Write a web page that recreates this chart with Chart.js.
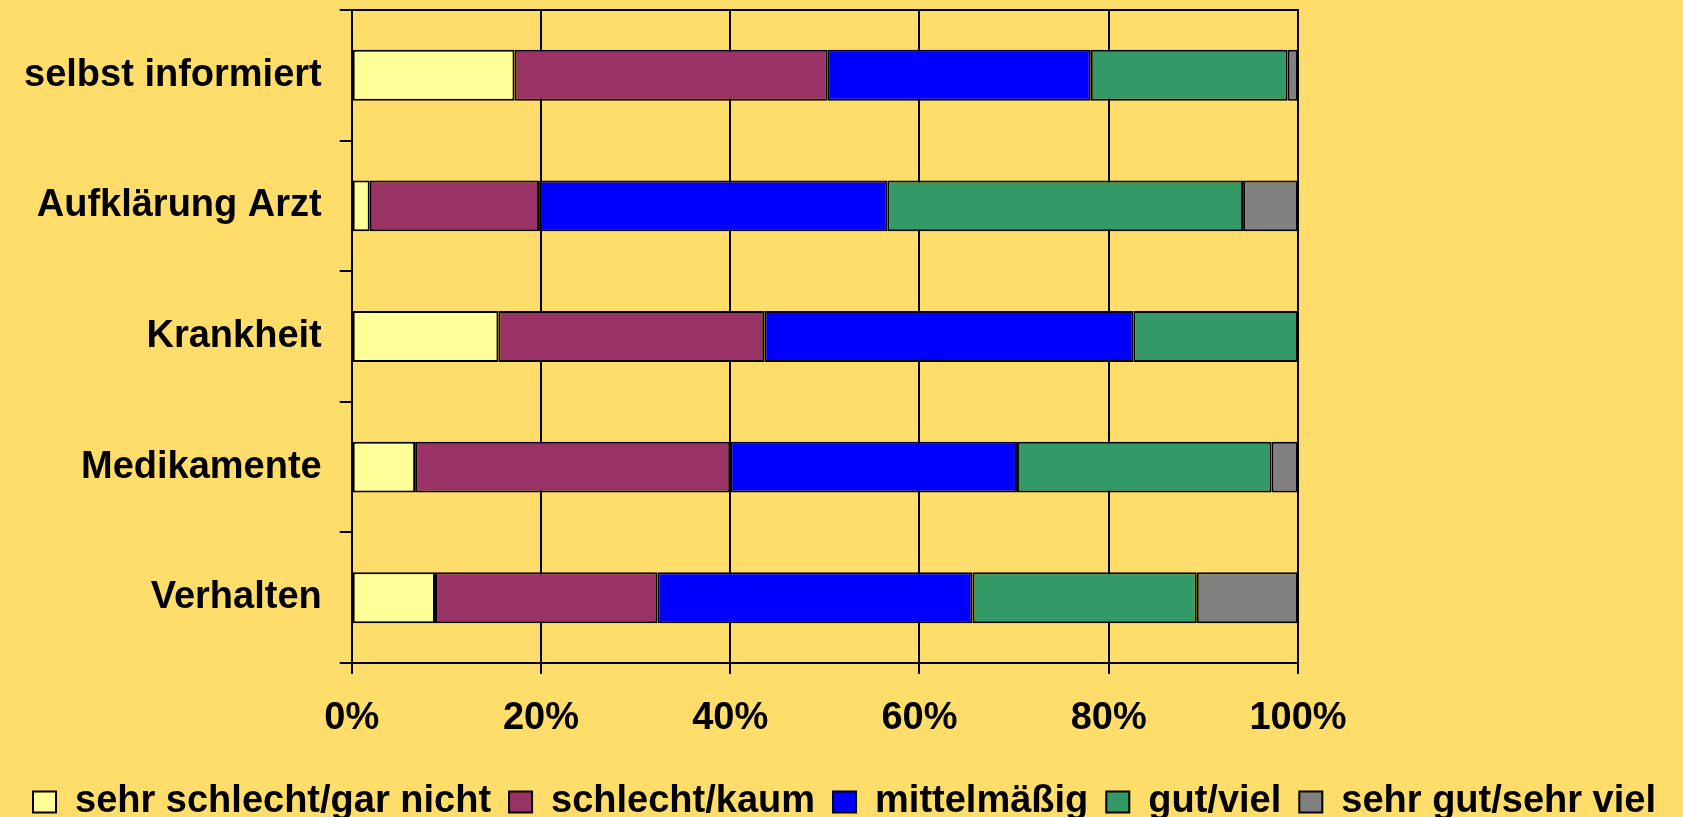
<!DOCTYPE html>
<html>
<head>
<meta charset="utf-8">
<script src="https://cdn.jsdelivr.net/npm/chart.js@4.4.0/dist/chart.umd.min.js"></script>
<style>
  html, body { margin: 0; padding: 0; background: #FFDD6B; }
  #wrap { width: 1683px; height: 817px; }
</style>
</head>
<body>
<div id="wrap"><canvas id="myChart"></canvas></div>
<script>
// categories (top to bottom)
const categories = ["selbst informiert", "Aufklärung Arzt", "Krankheit", "Medikamente", "Verhalten"];

// percent per answer
const sehrSchlecht = [17.2, 1.9, 15.5, 6.7, 8.8];
const schlecht = [33.1, 17.9, 28.1, 33.3, 23.5];
const mittel = [27.8, 36.8, 39.0, 30.3, 33.3];
const gut = [20.8, 37.6, 17.4, 26.9, 23.7];
const sehrGut = [1.1, 5.8, 0, 2.8, 10.7];

const seriesNames = ["sehr schlecht/gar nicht", "schlecht/kaum", "mittelmäßig", "gut/viel", "sehr gut/sehr viel"];
const seriesColors = ["#FFFF99", "#993366", "#0000FF", "#339966", "#808080"];
const xTicks = [0, 20, 40, 60, 80, 100];

const fontFamily = "'Liberation Sans', Arial, sans-serif";

const makeSet = (i, values) => ({
  label: seriesNames[i],
  data: values,
  backgroundColor: seriesColors[i],
  borderColor: "#000000",
  borderWidth: 2,
  borderSkipped: false,
  barPercentage: 0.39,
  categoryPercentage: 1.0
});

var ctx = document.getElementById("myChart").getContext("2d");
var chart = new Chart(ctx, {
  type: "bar",
  data: {
    labels: categories,
    datasets: [
      makeSet(0, sehrSchlecht),
      makeSet(1, schlecht),
      makeSet(2, mittel),
      makeSet(3, gut),
      makeSet(4, sehrGut)
    ]
  },
  options: {
    indexAxis: "y",
    responsive: true,
    maintainAspectRatio: false,
    animation: false,
    layout: {
      padding: { left: 6, right: 0, top: 10, bottom: -14 }
    },
    scales: {
      x: {
        stacked: true,
        min: 0,
        max: 100,
        afterBuildTicks: (axis) => {
          axis.ticks = xTicks.map((v) => ({ value: v }));
        },
        afterFit: (s) => { s.height = 102; },
        grid: {
          color: "#000000",
          lineWidth: 2,
          drawTicks: true,
          tickLength: 11
        },
        border: { display: true, color: "#000000", width: 2 },
        ticks: {
          color: "#000000",
          padding: 22,
          font: { family: fontFamily, size: 38, weight: "bold" },
          callback: (v) => v + "%"
        }
      },
      // top frame line of the plot area
      xTop: {
        position: "top",
        min: 0,
        max: 100,
        grid: { display: false, drawTicks: false },
        border: { display: true, color: "#000000", width: 2 },
        ticks: { display: false },
        afterFit: (s) => { s.height = 0; }
      },
      y: {
        stacked: true,
        grid: {
          display: true,
          drawOnChartArea: false,
          drawTicks: true,
          tickLength: 12,
          color: "#000000",
          lineWidth: 2
        },
        border: { display: true, color: "#000000", width: 2 },
        ticks: {
          color: "#000000",
          padding: 18,
          font: { family: fontFamily, size: 38, weight: "bold" }
        },
        afterFit: (s) => { s.paddingTop = 0; s.paddingBottom = 0; }
      },
      // empty space right of the plot
      ySpace: {
        position: "right",
        grid: { display: false, drawTicks: false },
        border: { display: false },
        ticks: { display: false },
        afterFit: (s) => { s.width = 385; s.paddingTop = 0; s.paddingBottom = 0; }
      }
    },
    plugins: {
      tooltip: { enabled: false },
      legend: {
        position: "bottom",
        labels: {
          color: "#000000",
          boxWidth: 23,
          boxHeight: 21,
          padding: 18,
          font: { family: fontFamily, size: 38, weight: "bold" },
          generateLabels: (ch) => ch.data.datasets.map((ds, i) => ({
            text: ds.label,
            fillStyle: ds.backgroundColor,
            strokeStyle: "#000000",
            lineWidth: 2,
            datasetIndex: i,
            hidden: false
          }))
        }
      }
    }
  }
});
</script>
</body>
</html>
